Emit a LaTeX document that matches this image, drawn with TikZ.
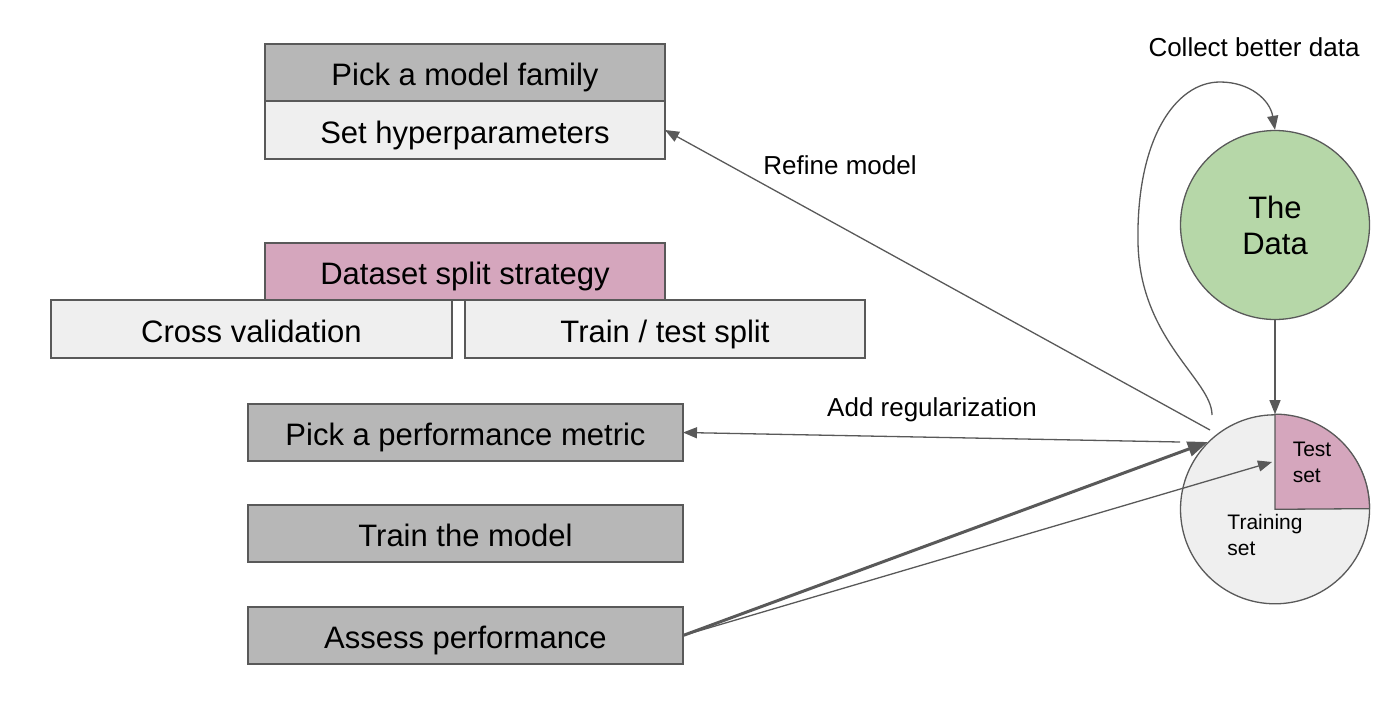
\documentclass[tikz,border=0pt]{standalone}
\usepackage{fontspec}
\setmainfont{Liberation Sans}
\usetikzlibrary{positioning}
\usetikzlibrary{arrows.meta}
\definecolor{linegray}{HTML}{595959}
\definecolor{boxgray}{HTML}{B7B7B7}
\definecolor{palegray}{HTML}{EFEFEF}
\definecolor{rose}{HTML}{D5A6BD}
\definecolor{sage}{HTML}{B6D7A8}
\tikzset{
 stage/.style={
 rectangle,
 draw=linegray, line width=1.3pt,
 fill=boxgray,
 minimum width=435pt,
 minimum height=57pt,
 text height=26pt, text depth=0pt,
 inner sep=0pt, outer sep=0pt,
 font=\fontsize{31}{37}\selectfont},
 choice/.style={
 stage,
 fill=palegray,
 minimum width=400pt,
 minimum height=58pt},
 group/.style={
 stage,
 minimum width=400pt},
 blob/.style={
 circle,
 draw=linegray, line width=1.3pt,
 minimum size=189pt,
 inner sep=0pt,
 align=center,
 font=\fontsize{31}{36}\selectfont},
 caption/.style={
 font=\fontsize{26}{30}\selectfont},
 part/.style={
 align=left,
 font=\fontsize{21}{26}\selectfont},
 flow/.style={
 draw=linegray, line width=1.3pt,
 -{Triangle[length=14pt,width=11pt]}},
 boldflow/.style={
 flow, line width=3pt,
 -{Triangle[length=20pt,width=15pt]}}
}

\begin{document}
\begin{tikzpicture}[x=1pt,y=-1pt]
 \useasboundingbox (0,0) rectangle (1392,704);

 \node[group] (family) at (465,72.5) {Pick a model family};
 \node[choice, below = 0pt of family] (hyper) {Set hyperparameters};

 \node[group, fill=rose] (split) at (465,271.5) {Dataset split strategy};
 \node[choice, minimum width=401pt, below left = 0pt and 13pt of split.south] (cross) {Cross validation};
 \node[choice, below right = 0pt and 0pt of split.south] (tts) {Train / test split};

 \node[stage] (metric) at (465.5,432.5) {Pick a performance metric};
 \node[stage, below = 44pt of metric] (train) {Train the model};
 \node[stage, below = 45pt of train] (assess) {Assess performance};

 \node[blob, fill=sage] (data) at (1275,225) {The\\Data};
 \node[blob, fill=palegray, below = 94pt of data] (pie) {};
 \filldraw[fill=rose, draw=linegray, line width=1.3pt]
 (pie.center) -- (pie.north) arc[start angle=90, end angle=0, radius=94.5pt] -- cycle;
 \node[part] (testset) at (1312,462) {Test\\set};
 \node[part] (trainset) at (1265,535) {Training\\set};

 \coordinate (loopstart) at (1212,415);
 \coordinate (refinestart) at (1210,430);
 \coordinate (regstart) at (1180,442);
 \coordinate (innertip) at (1272,462);

 \draw[flow] (data) -- (pie);
 \draw[flow] (loopstart) .. controls (1212,380) and (1140,340) .. (1138,243)
 .. controls (1136,140) and (1175,82) .. (1220,82)
 .. controls (1250,82) and (1270,100) .. (data.north);
 \draw[flow] (refinestart) -- (hyper.east);
 \draw[flow] (regstart) -- (metric.east);
 \draw[boldflow] (assess.east) -- (pie.135);
 \draw[flow] (assess.east) -- (innertip);

 \node[caption] (collect) at (1254,47) {Collect better data};
 \node[caption] (refine) at (840,165) {Refine model};
 \node[caption] (regular) at (932,410) {Add regularization};
\end{tikzpicture}
\end{document}
